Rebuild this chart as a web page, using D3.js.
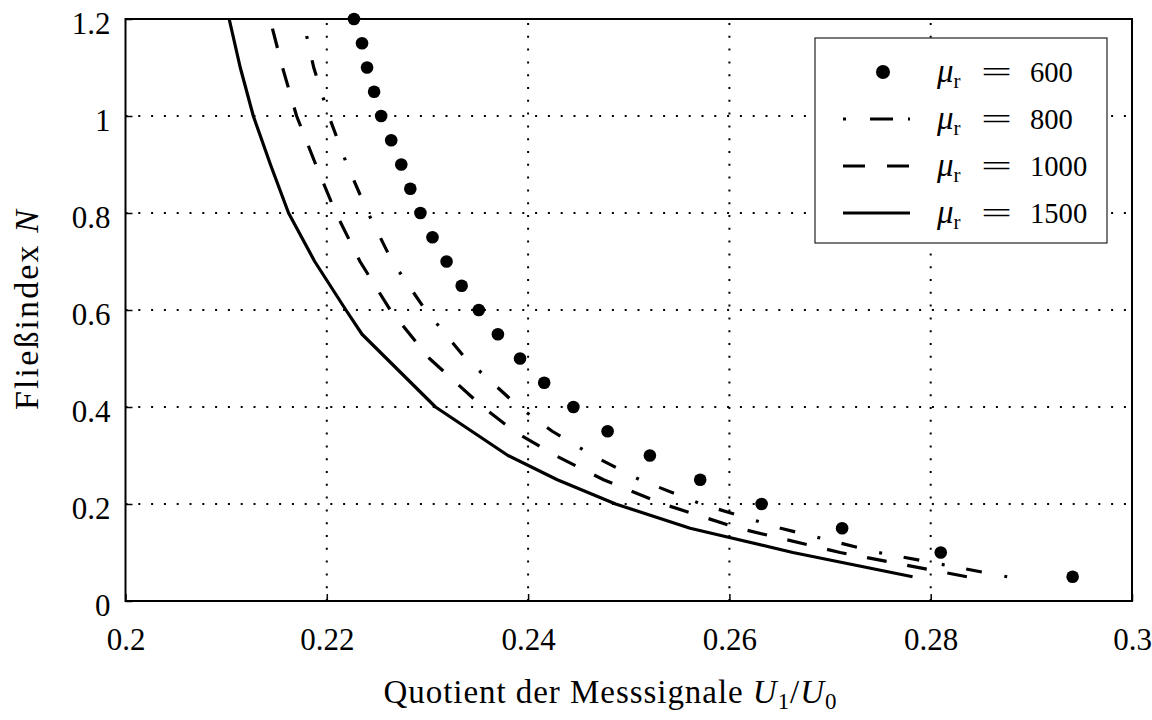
<!DOCTYPE html>
<html>
<head>
<meta charset="utf-8">
<script src="https://cdn.jsdelivr.net/npm/d3@7"></script>
<style>
  body { margin: 0; background: #fff; }
  svg { display: block; }
  text { font-family: "Liberation Serif", "Times New Roman", serif; fill: #000; }
</style>
</head>
<body>
<svg id="chart" width="1152" height="720"></svg>
<script>
// Axis ticks and labels
const xTicks = [0.2, 0.22, 0.24, 0.26, 0.28, 0.3];
const xTickLabels = ["0.2", "0.22", "0.24", "0.26", "0.28", "0.3"];
const yTicks = [0, 0.2, 0.4, 0.6, 0.8, 1.0, 1.2];
const yTickLabels = ["0", "0.2", "0.4", "0.6", "0.8", "1", "1.2"];

// Series names (relative permeability)
const seriesNames = ["600", "800", "1000", "1500"];

// mu_r = 600 : flow index N against signal ratio U1/U0 (markers)
const n600 = [1.2, 1.15, 1.1, 1.05, 1.0, 0.95, 0.9, 0.85, 0.8, 0.75, 0.7, 0.65,
              0.6, 0.55, 0.5, 0.45, 0.4, 0.35, 0.3, 0.25, 0.2, 0.15, 0.1, 0.05];
const q600 = [0.2227, 0.2235, 0.2240, 0.2247, 0.2254, 0.2264, 0.2274, 0.2283, 0.2293, 0.2305, 0.2319, 0.2334,
              0.2351, 0.2370, 0.2392, 0.2416, 0.2445, 0.2479, 0.2521, 0.2571, 0.2632, 0.2712, 0.2810, 0.2941];

// mu_r = 800 (dash-dot)
const n800 = [1.165, 1.1, 1.0, 0.9, 0.8, 0.7, 0.6, 0.5, 0.4, 0.35, 0.3, 0.25, 0.2, 0.15, 0.1, 0.05];
const q800 = [0.2180, 0.2187, 0.2202, 0.2220, 0.2241, 0.2265, 0.2298, 0.2338, 0.2391, 0.2424, 0.2464, 0.2511, 0.2572, 0.2651, 0.2748, 0.2876];

// mu_r = 1000 (dashed)
const n1000 = [1.18, 1.1, 1.0, 0.9, 0.8, 0.7, 0.6, 0.5, 0.4, 0.35, 0.3, 0.25, 0.2, 0.15, 0.1, 0.05];
const q1000 = [0.2146, 0.2156, 0.2170, 0.2189, 0.2209, 0.2233, 0.2263, 0.2302, 0.2355, 0.2386, 0.2427, 0.2475, 0.2534, 0.2609, 0.2710, 0.2836];

// mu_r = 1500 (solid)
const n1500 = [1.2, 1.1, 1.0, 0.9, 0.8, 0.7, 0.6, 0.55, 0.4, 0.3, 0.25, 0.2, 0.15, 0.1, 0.05];
const q1500 = [0.2103, 0.2114, 0.2127, 0.2144, 0.2162, 0.2188, 0.2219, 0.2235, 0.2308, 0.2380, 0.2429, 0.2487, 0.2561, 0.2663, 0.2782];

// Drawing styles per line series (dash patterns in px)
const lineStyles = {
  "800":  { dash: [3, 22, 16, 23], legendDash: "3,24,23,15,3,60" },
  "1000": { dash: [20, 21],        legendDash: "22,22,22,60" },
  "1500": { dash: null,            legendDash: null }
};

const serif = '"Liberation Serif", "Times New Roman", serif';
const svg = d3.select("#chart");
const plotLeft = 125.5, plotRight = 1132, plotTop = 19, plotBottom = 601;

const x = d3.scaleLinear().domain([0.2, 0.3]).range([plotLeft, plotRight]);
const y = d3.scaleLinear().domain([0, 1.2]).range([plotBottom, plotTop]);

// Dotted grid
const grid = svg.append("g").attr("stroke", "#000").attr("stroke-width", 2)
  .attr("stroke-dasharray", "2,10.8").attr("fill", "none");
grid.selectAll("line.v").data(xTicks.slice(1, -1)).join("line")
  .attr("class", "v")
  .attr("x1", d => x(d)).attr("x2", d => x(d))
  .attr("y1", y(0)).attr("y2", y(1.2));
grid.selectAll("line.h").data(yTicks.slice(1, -1)).join("line")
  .attr("class", "h")
  .attr("x1", x(0.2)).attr("x2", x(0.3))
  .attr("y1", d => y(d)).attr("y2", d => y(d));

// Axes with inward ticks
const xAxis = d3.axisBottom(x).tickValues(xTicks)
  .tickFormat((d, i) => xTickLabels[i]).tickSizeInner(-7).tickSizeOuter(0);
const gx = svg.append("g").attr("transform", `translate(0,${plotBottom})`).call(xAxis);
gx.select(".domain").remove();
gx.selectAll(".tick line").attr("stroke", "#000").attr("stroke-width", 1.5);
gx.selectAll(".tick text").attr("y", 49).attr("dy", 0)
  .style("font-size", "31px").style("font-family", serif).attr("fill", "#000");

const yAxis = d3.axisLeft(y).tickValues(yTicks)
  .tickFormat((d, i) => yTickLabels[i]).tickSizeInner(-7).tickSizeOuter(0);
const gy = svg.append("g").attr("transform", `translate(${plotLeft},0)`).call(yAxis);
gy.select(".domain").remove();
gy.selectAll(".tick line").attr("stroke", "#000").attr("stroke-width", 1.5);
gy.selectAll(".tick text").attr("x", -15).attr("dy", "0.46em")
  .style("font-size", "31px").style("font-family", serif).attr("fill", "#000");

// Curves
const line = d3.line().x(d => x(d.q)).y(d => y(d.n));
const zipSeries = (ns, qs) => ns.map((n, i) => ({ n, q: qs[i] }));

const lineSeries = [
  { name: "800",  data: zipSeries(n800, q800) },
  { name: "1000", data: zipSeries(n1000, q1000) },
  { name: "1500", data: zipSeries(n1500, q1500) }
];

const paths = svg.append("g").selectAll("path").data(lineSeries).join("path")
  .attr("d", d => line(d.data))
  .attr("fill", "none").attr("stroke", "#000").attr("stroke-width", 3.2)
  .attr("stroke-linejoin", "round");

// Stretch each dash pattern slightly so it closes with its first element at the end
paths.each(function (d) {
  const pat = lineStyles[d.name].dash;
  if (!pat) return;
  const L = this.getTotalLength();
  const period = d3.sum(pat);
  const n = Math.max(1, Math.round((L - pat[0]) / period));
  const s = (L - pat[0]) / (n * period);
  d3.select(this).attr("stroke-dasharray", pat.map(v => (v * s).toFixed(2)).join(","));
});

// Markers for mu_r = 600
svg.append("g").selectAll("circle").data(zipSeries(n600, q600)).join("circle")
  .attr("cx", d => x(d.q)).attr("cy", d => y(d.n)).attr("r", 6.3).attr("fill", "#000");

// Plot frame
svg.append("rect").attr("x", plotLeft).attr("y", plotTop)
  .attr("width", plotRight - plotLeft).attr("height", plotBottom - plotTop)
  .attr("fill", "none").attr("stroke", "#000").attr("stroke-width", 2);

// Legend
const legend = svg.append("g");
legend.append("rect").attr("x", 815).attr("y", 38).attr("width", 292).attr("height", 205)
  .attr("fill", "#fff").attr("stroke", "#222").attr("stroke-width", 1.2);

const rowY = [72, 119, 166, 213];
seriesNames.forEach((name, i) => {
  const ry = rowY[i];
  if (name === "600") {
    legend.append("circle").attr("cx", 883).attr("cy", ry).attr("r", 7).attr("fill", "#000");
  } else {
    legend.append("line").attr("x1", 843).attr("x2", 910).attr("y1", ry).attr("y2", ry)
      .attr("stroke", "#000").attr("stroke-width", 3.2)
      .attr("stroke-dasharray", lineStyles[name].legendDash);
  }
  const t = legend.append("text").attr("y", ry + 10).style("font-size", "30px");
  t.append("tspan").attr("x", 937).attr("font-style", "italic").style("font-size", "33px").text("μ");
  t.append("tspan").style("font-size", "21px").attr("dy", 6).text("r");
  legend.append("text").attr("x", 981).attr("y", ry + 10).style("font-size", "30px")
    .attr("textLength", 31).attr("lengthAdjust", "spacingAndGlyphs").text("=");
  legend.append("text").attr("x", 1030).attr("y", ry + 10).style("font-size", "30px")
    .attr("textLength", name.length * 14.3).attr("lengthAdjust", "spacingAndGlyphs").text(name);
});

// Axis titles
const xt = svg.append("text").attr("x", 610).attr("y", 703).attr("text-anchor", "middle")
  .style("font-size", "33px").attr("textLength", 453).attr("lengthAdjust", "spacing");
xt.append("tspan").text("Quotient der Messsignale ");
xt.append("tspan").attr("font-style", "italic").text("U");
xt.append("tspan").style("font-size", "23px").attr("dy", 6).text("1");
xt.append("tspan").attr("dy", -6).text("/");
xt.append("tspan").attr("font-style", "italic").text("U");
xt.append("tspan").style("font-size", "23px").attr("dy", 6).text("0");

const yt = svg.append("text").attr("transform", "translate(38,310) rotate(-90)")
  .attr("text-anchor", "middle").style("font-size", "34px")
  .attr("textLength", 200).attr("lengthAdjust", "spacing");
yt.append("tspan").text("Fließindex ");
yt.append("tspan").attr("font-style", "italic").text("N");
</script>
</body>
</html>
